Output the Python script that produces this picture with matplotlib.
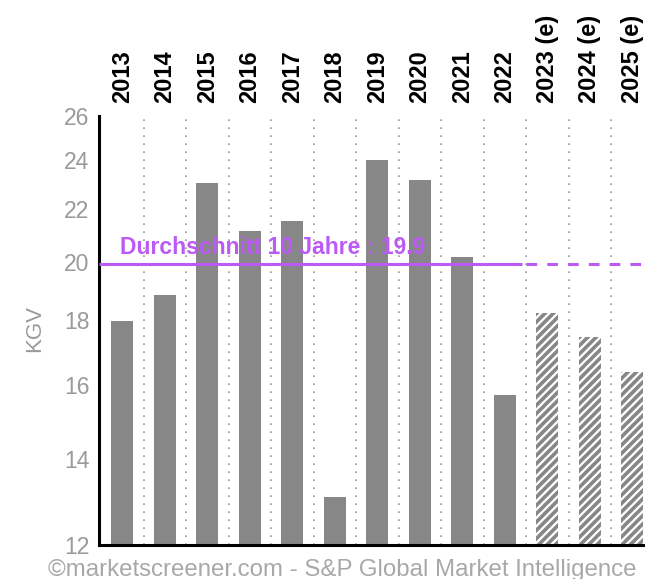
import numpy as np
import matplotlib.pyplot as plt
from matplotlib.ticker import NullLocator, NullFormatter

plt.rcParams['font.family'] = ['Liberation Sans', 'DejaVu Sans']
plt.rcParams['hatch.linewidth'] = 2.6

# Data
years = ['2013', '2014', '2015', '2016', '2017', '2018', '2019', '2020',
         '2021', '2022', '2023 (e)', '2024 (e)', '2025 (e)']
hist_values = [17.97, 18.83, 23.06, 21.14, 21.53, 13.08, 24.02, 23.17, 20.18, 15.73]
est_values = [18.22, 17.45, 16.40]
average_10y = 19.9
y_ticks = [12, 14, 16, 18, 20, 22, 24, 26]

bar_grey = '#878787'
avg_purple = '#bb5af5'
label_grey = '#9a9a9a'

fig = plt.figure(figsize=(6.45, 5.79), dpi=100)
# axes run off the right edge like in the original picture
ax = fig.add_axes([0.1535, 0.0587, 0.863, 0.741])

x_hist = np.arange(len(hist_values))
x_est = np.arange(len(hist_values), len(years))

# dotted separators between the columns
for i in range(len(years) - 1):
    ax.axvline(i + 0.5, color='#9a9a9a', lw=1.2, linestyle=(0, (1, 3.8)), zorder=1)

ax.bar(x_hist, hist_values, width=0.52, color=bar_grey, lw=0, zorder=2)
ax.bar(x_est, est_values, width=0.52, color='white', edgecolor=bar_grey,
       hatch='////', lw=0, zorder=2)

# 10 year average: solid over history, dashed over estimates
split = len(hist_values) - 0.5
ax.plot([-0.55, split - 0.1], [average_10y, average_10y], color=avg_purple,
        lw=2.2, solid_capstyle='butt', zorder=3)
ax.plot([split, 12.6], [average_10y, average_10y], color=avg_purple,
        lw=2.2, linestyle=(0, (3.5, 3.3)), zorder=3)
ax.annotate('Durchschnitt 10 Jahre : {}'.format(average_10y), xy=(-0.06, average_10y),
            xytext=(0, 4), textcoords='offset points', color=avg_purple,
            fontsize=16.5, fontweight='bold', va='bottom', ha='left', zorder=4)

ax.set_yscale('log')
ax.set_ylim(12, 26)
ax.set_xlim(-0.55, 12.55)
ax.set_yticks(y_ticks)
ax.set_yticklabels([str(t) for t in y_ticks])
ax.yaxis.set_minor_locator(NullLocator())
ax.yaxis.set_minor_formatter(NullFormatter())
ax.tick_params(axis='y', length=0, pad=7, labelsize=16.5, labelcolor=label_grey)

ax.xaxis.tick_top()
ax.set_xticks(np.arange(len(years)))
ax.set_xticklabels(years, rotation=90, fontweight='bold', fontsize=17)
ax.tick_params(axis='x', length=0, pad=9, labelcolor='black')

for side in ['top', 'right']:
    ax.spines[side].set_visible(False)
for side in ['left', 'bottom']:
    ax.spines[side].set_linewidth(2.2)
    ax.spines[side].set_color('black')

fig.text(35 / 645, 1 - 329 / 579, 'KGV', rotation=90, color=label_grey,
         fontsize=16, ha='center', va='center')
fig.text(48 / 645, 0.006, '\u00a9marketscreener.com - S&P Global Market Intelligence',
         color='#a8a8a8', fontsize=17.3, ha='left', va='baseline')

fig.savefig('out.png', dpi=100)
